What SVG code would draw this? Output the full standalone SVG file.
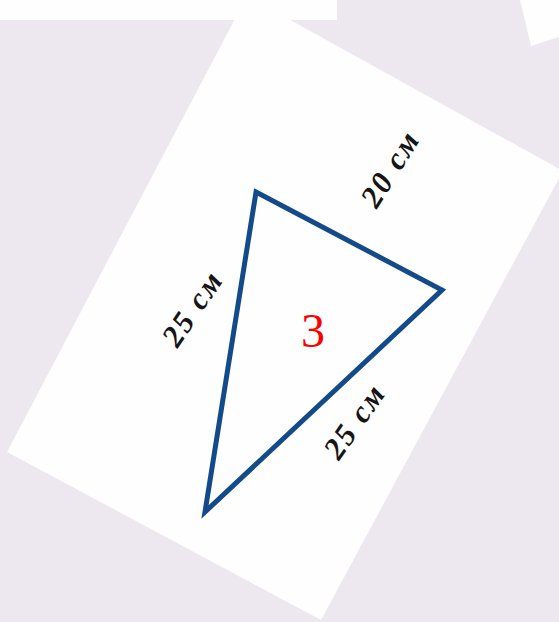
<svg xmlns="http://www.w3.org/2000/svg" width="559" height="622" viewBox="0 0 559 622">
<style>
.card{fill:#fefefe}
.lbl{font-family:"Liberation Serif","Times New Roman",serif;font-weight:bold;font-style:italic;font-size:31px;fill:#151515;letter-spacing:2px;text-anchor:middle}
.num{font-family:"Liberation Serif","Times New Roman",serif;font-size:48px;fill:#ff0000;text-anchor:middle}
.tri{fill:none;stroke:#134a8a;stroke-width:5;stroke-linejoin:miter}
</style>
<rect width="559" height="622" fill="#ede7ef"/>
<g id="paper">
<polygon class="card" points="247,-4 563,171 321,620 7,452"/>
<rect class="card" x="0" y="0" width="337" height="20"/>
<polygon class="card" points="520,0 531,46 559,37 559,0"/>
</g>
<g id="connectors">
<polygon id="triangle" class="tri" points="256,192 442,290 205,512"/>
</g>
<g id="label-top"><text class="lbl" transform="translate(399,174) rotate(-58)">20 см</text></g>
<g id="label-left"><text class="lbl" transform="translate(201,314) rotate(-56)">25 см</text></g>
<g id="label-bottom"><text class="lbl" transform="translate(363,427) rotate(-55)">25 см</text></g>
<g id="center"><text class="num" x="313" y="347">3</text></g>
</svg>
